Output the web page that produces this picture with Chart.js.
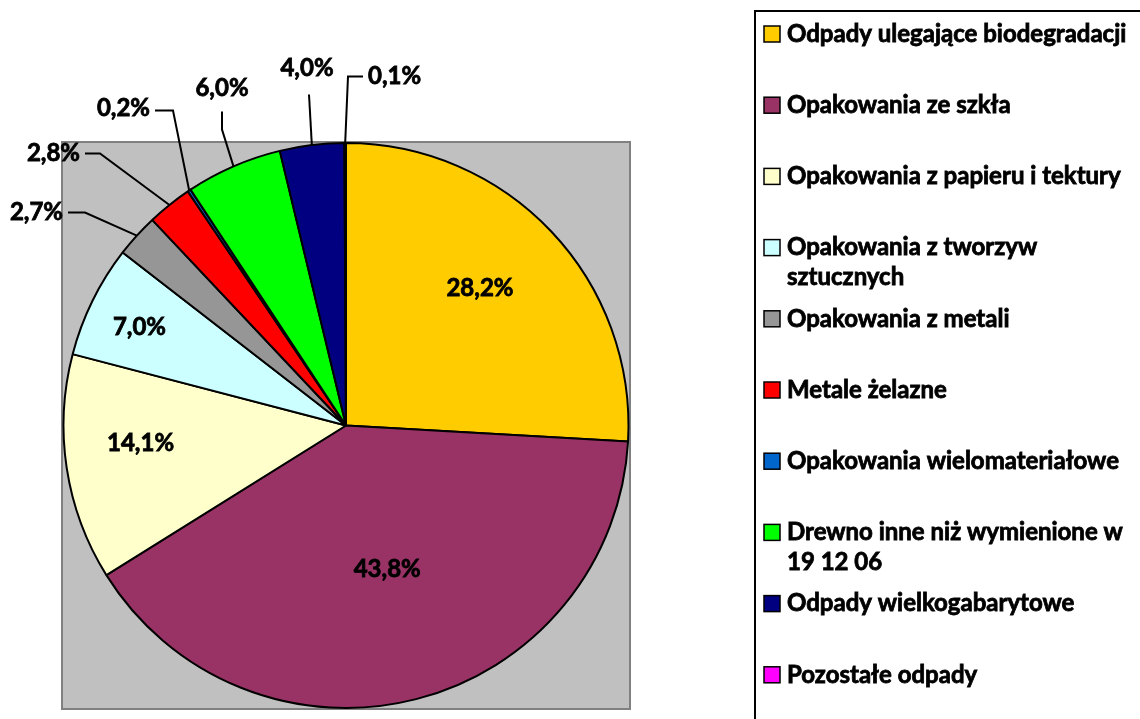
<!DOCTYPE html>
<html><head><meta charset="utf-8">
<script src="https://cdn.jsdelivr.net/npm/chart.js@4.4.0/dist/chart.umd.min.js"></script>
<style>html,body{margin:0;padding:0;background:#fff;}#wrap{position:relative;width:1140px;height:719px;}</style>
</head><body><div id="wrap"><canvas id="c" width="1140" height="719"></canvas></div>
<script>
const categories = [
  'Odpady ulegające biodegradacji',
  'Opakowania ze szkła',
  'Opakowania z papieru i tektury',
  ['Opakowania z tworzyw', 'sztucznych'],
  'Opakowania z metali',
  'Metale żelazne',
  'Opakowania wielomateriałowe',
  ['Drewno inne niż wymienione w', '19 12 06'],
  'Odpady wielkogabarytowe',
  'Pozostałe odpady'
];
const values = [28.2, 43.8, 14.1, 7.0, 2.7, 2.8, 0.2, 6.0, 4.0, 0.1];
const valueLabels = ['28,2%', '43,8%', '14,1%', '7,0%', '2,7%', '2,8%', '0,2%', '6,0%', '4,0%', '0,1%'];
const colors = ['#FFCC00', '#993366', '#FFFFCC', '#CCFFFF', '#969696', '#FF0000', '#0066CC', '#00FF00', '#000080', '#FF00FF'];

// label placement (style only): inside labels by radius fraction and angle shift (deg),
// outside labels by offsets relative to the pie centre
const labelLayout = [
  { inside: true, r: 0.68, da: -2.4 },
  { inside: true, r: 0.53, da: -1.6 },
  { inside: true, r: 0.73, da: 3.7 },
  { inside: true, r: 0.81, da: -0.7 },
  { text: [-283, -213], align: 'right', line: [[-278, -213], [-261, -213]] },
  { text: [-266, -272], align: 'right', line: [[-261, -272], [-246, -272]] },
  { text: [-196, -317], align: 'right', line: [[-191, -315], [-173, -315]] },
  { text: [-124, -337], align: 'center', line: [[-124, -314], [-124, -296]] },
  { text: [-39, -357], align: 'center', line: [[-37, -331]] },
  { text: [22, -349], align: 'left', line: [[17, -349], [2, -349]] }
];
const FONT = 'bold 24px Lato';

function boldText(ctx, t, x, y) {
  ctx.save();
  ctx.lineWidth = 0.8;
  ctx.strokeStyle = '#000';
  ctx.strokeText(t, x, y);
  ctx.restore();
  ctx.fillText(t, x, y);
}

const plotBg = {
  id: 'plotBg',
  beforeDraw(chart) {
    const { ctx, chartArea: a } = chart;
    ctx.save();
    ctx.fillStyle = '#C0C0C0';
    ctx.fillRect(a.left, a.top, a.width, a.height);
    ctx.strokeStyle = '#808080';
    ctx.lineWidth = 2;
    ctx.strokeRect(a.left, a.top, a.width, a.height);
    ctx.restore();
  }
};

const sliceLabels = {
  id: 'sliceLabels',
  afterDatasetsDraw(chart) {
    const { ctx } = chart;
    const meta = chart.getDatasetMeta(0);
    ctx.save();
    ctx.font = FONT;
    ctx.fillStyle = '#000';
    ctx.strokeStyle = '#000';
    ctx.textBaseline = 'middle';
    meta.data.forEach((arc, i) => {
      const L = labelLayout[i];
      const mid = (arc.startAngle + arc.endAngle) / 2;
      const cx = arc.x, cy = arc.y, R = arc.outerRadius;
      if (L.inside) {
        const a = mid + L.da * Math.PI / 180;
        ctx.textAlign = 'center';
        boldText(ctx, valueLabels[i], cx + Math.cos(a) * R * L.r, cy + Math.sin(a) * R * L.r);
      } else {
        ctx.lineWidth = 2;
        ctx.beginPath();
        ctx.moveTo(cx + L.line[0][0], cy + L.line[0][1]);
        for (let k = 1; k < L.line.length; k++) ctx.lineTo(cx + L.line[k][0], cy + L.line[k][1]);
        ctx.lineTo(cx + Math.cos(mid) * R, cy + Math.sin(mid) * R);
        ctx.stroke();
        ctx.textAlign = L.align;
        boldText(ctx, valueLabels[i], cx + L.text[0], cy + L.text[1]);
      }
    });
    ctx.restore();
  }
};

const boxLegend = {
  id: 'boxLegend',
  afterDraw(chart) {
    const { ctx } = chart;
    const ds = chart.data.datasets[0];
    ctx.save();
    ctx.strokeStyle = '#000';
    ctx.lineWidth = 2;
    ctx.strokeRect(755, 11, 420, 740);
    ctx.font = FONT;
    ctx.textBaseline = 'middle';
    ctx.textAlign = 'left';
    chart.data.labels.forEach((lab, i) => {
      const y = 34 + i * 71.2;
      ctx.fillStyle = ds.backgroundColor[i];
      ctx.fillRect(764, y - 8, 16, 16);
      ctx.lineWidth = 1.5;
      ctx.strokeRect(764, y - 8, 16, 16);
      ctx.fillStyle = '#000';
      const lines = Array.isArray(lab) ? lab : [lab];
      lines.forEach((t, k) => boldText(ctx, t, 787, y + k * 29.5));
    });
    ctx.restore();
  }
};

new Chart(document.getElementById('c'), {
  type: 'pie',
  data: {
    labels: categories,
    datasets: [{
      data: values,
      backgroundColor: colors,
      borderColor: '#000',
      borderWidth: 2
    }]
  },
  options: {
    responsive: false,
    animation: false,
    layout: { padding: { left: 62, top: 142, right: 510, bottom: 10 } },
    plugins: { legend: { display: false }, tooltip: { enabled: false } }
  },
  plugins: [plotBg, sliceLabels, boxLegend]
});
</script></body></html>
